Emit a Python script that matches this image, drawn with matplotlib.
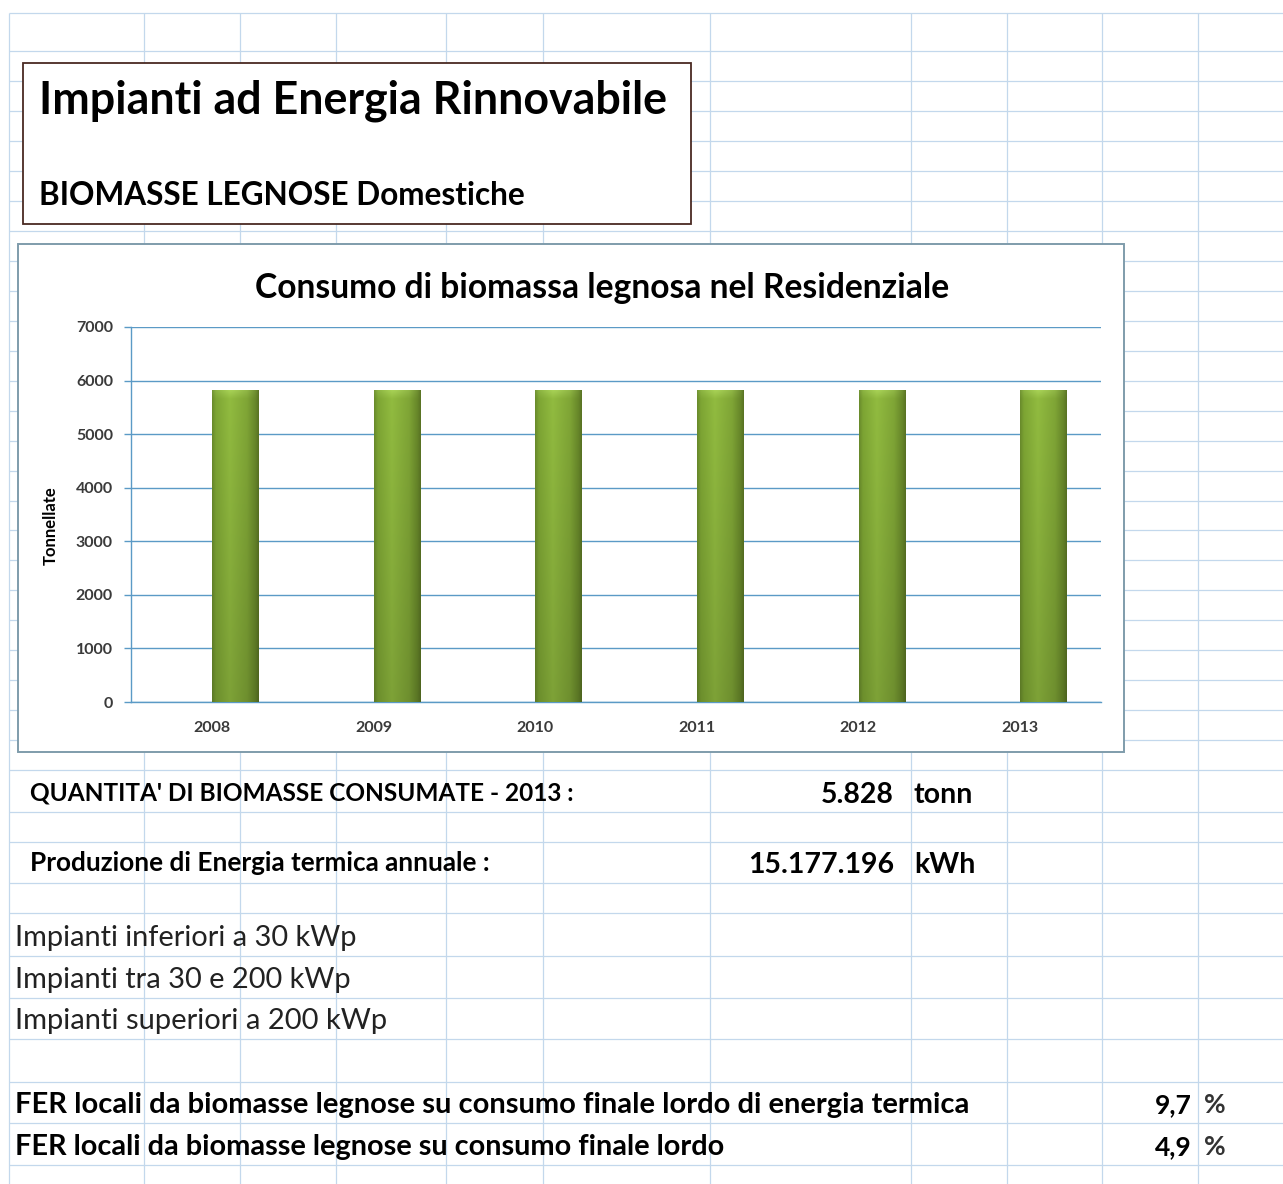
import matplotlib
matplotlib.use("Agg")
import matplotlib.pyplot as plt
import numpy as np
from matplotlib.patches import Rectangle

# Residential wood biomass consumption (tonnes per year)
anni = ["2008", "2009", "2010", "2011", "2012", "2013"]
tonnellate = [5828, 5828, 5828, 5828, 5828, 5828]
y_ticks = [0, 1000, 2000, 3000, 4000, 5000, 6000, 7000]

quantita_2013 = "5.828"
energia_termica = "15.177.196"
fer_termica = "9,7"
fer_totale = "4,9"

W, H = 1283, 1184
FONT = "Lato"
GRID_SHEET = "#c3d8ec"
GRID_CHART = "#5b9ac6"

# spreadsheet rows / columns (pixel positions)
row_y = [13, 51, 81, 111, 141, 171, 201, 231, 261, 291, 321, 351, 381, 411, 441,
         471, 501, 530, 560, 590, 620, 650, 680, 710, 740, 770, 812, 842, 883,
         913, 956, 998, 1039, 1082, 1123, 1165]
col_x = [9, 144, 240, 336, 446, 543, 710, 911, 1007, 1102, 1198]

fig = plt.figure(figsize=(W / 100, H / 100), dpi=100)
fig.patch.set_facecolor("white")
renderer = fig.canvas.get_renderer()

bg = fig.add_axes([0, 0, 1, 1])
bg.set_xlim(0, W)
bg.set_ylim(H, 0)
bg.axis("off")

bg.hlines(row_y, 9, W, color=GRID_SHEET, lw=0.9, zorder=0)
bg.vlines(col_x, 13, H, color=GRID_SHEET, lw=0.9, zorder=0)


def fit_text(ax, x, y, s, width, **kw):
    """Place text and scale its font so it spans `width` pixels."""
    t = ax.text(x, y, s, **kw)
    w = t.get_window_extent(renderer).width
    t.set_fontsize(t.get_fontsize() * width / w)
    return t


# header box
bg.add_patch(Rectangle((23, 63), 668, 161, facecolor="white",
                       edgecolor="#4a2a22", lw=1.3, zorder=2))
fit_text(bg, 39, 114, "Impianti ad Energia Rinnovabile", 628,
         family=FONT, weight="bold", fontsize=30, color="black", zorder=3)
fit_text(bg, 39, 205, "BIOMASSE LEGNOSE Domestiche", 487,
         family=FONT, weight="bold", fontsize=20, color="black", zorder=3)

# chart frame
bg.add_patch(Rectangle((18, 244), 1106, 508, facecolor="white",
                       edgecolor="#7f9cab", lw=1.4, zorder=2))
fit_text(bg, 255, 298, "Consumo di biomassa legnosa nel Residenziale", 695,
         family=FONT, weight="bold", fontsize=22, color="black", zorder=3)
bg.text(51, 526, "Tonnellate", family=FONT, weight="bold", fontsize=12,
        rotation=90, ha="center", va="center", color="black", zorder=3)

# bar chart
left, right, top, bottom = 131, 1101, 327, 702
ax = fig.add_axes([left / W, 1 - bottom / H, (right - left) / W, (bottom - top) / H])
ax.set_facecolor("none")
ax.set_zorder(5)

x = np.arange(len(anni))
bars = ax.bar(x, tonnellate, width=0.29, align="edge", color="#7ea63a",
              edgecolor="none", zorder=3)

# cylinder-like shading for each column
nx, ny = 80, 300
u = np.linspace(0, 1, nx)
stops = [0.0, 0.08, 0.38, 0.75, 0.93, 1.0]
rgb_stops = np.array([[106, 140, 44], [126, 166, 52], [146, 188, 64],
                      [128, 166, 54], [104, 136, 42], [90, 116, 36]]) / 255
row = np.stack([np.interp(u, stops, rgb_stops[:, c]) for c in range(3)], axis=-1)
v = np.linspace(0, 1, ny)
grad = row[None, :, :] * (1.0 - 0.14 * v[:, None, None])
# soft rounded highlight along the top edge
glow = np.clip(1 - v / 0.03, 0, 1)[:, None, None]
edge = np.clip(1 - np.abs(u - 0.45) / 0.55, 0, 1)[None, :, None] ** 0.5
grad = np.clip(grad + 0.10 * glow * edge, 0, 1)
for b in bars:
    bx, bw, bh = b.get_x(), b.get_width(), b.get_height()
    im = ax.imshow(grad, extent=[bx, bx + bw, 0, bh], origin="upper",
                   aspect="auto", zorder=4)
    im.set_clip_path(b)

ax.set_xlim(-0.5, len(anni) - 0.5)
ax.set_ylim(0, 7000)
ax.set_yticks(y_ticks)
ax.set_xticks(x)
ax.set_xticklabels(anni)
ax.grid(axis="y", color=GRID_CHART, lw=1.0, zorder=0)
ax.set_axisbelow(True)
for side in ["top", "right"]:
    ax.spines[side].set_visible(False)
for side in ["left", "bottom"]:
    ax.spines[side].set_color(GRID_CHART)
    ax.spines[side].set_linewidth(1.0)
ax.tick_params(axis="y", length=5, width=1.0, color=GRID_CHART, pad=8,
               labelsize=11.5, labelcolor="#3a3a3a")
ax.tick_params(axis="x", length=0, pad=14, labelsize=11.5, labelcolor="#3a3a3a")
for lbl in ax.get_xticklabels() + ax.get_yticklabels():
    lbl.set_family(FONT)
    lbl.set_weight("bold")

# figures below the chart
fit_text(bg, 30, 800, "QUANTITA' DI BIOMASSE CONSUMATE - 2013 :", 543,
         family=FONT, weight="bold", fontsize=16, color="black")
num = fit_text(bg, 894, 803, quantita_2013, 73, family=FONT, weight="bold",
               fontsize=18, ha="right", color="black")
bg.text(914, 803, "tonn", family=FONT, weight="bold",
        fontsize=num.get_fontsize(), color="black")

fit_text(bg, 30, 871, "Produzione di Energia termica annuale :", 460,
         family=FONT, weight="bold", fontsize=16, color="black")
bg.text(894, 873, energia_termica, family=FONT, weight="bold",
        fontsize=num.get_fontsize(), ha="right", color="black")
bg.text(914, 873, "kWh", family=FONT, weight="bold",
        fontsize=num.get_fontsize(), color="black")

fit_text(bg, 15, 946, "Impianti inferiori a 30 kWp", 343, family=FONT,
         fontsize=19, color="#222222")
fit_text(bg, 15, 988, "Impianti tra 30 e 200 kWp", 337, family=FONT,
         fontsize=19, color="#222222")
fit_text(bg, 15, 1029, "Impianti superiori a 200 kWp", 373, family=FONT,
         fontsize=19, color="#222222")

fit_text(bg, 15, 1113,
         "FER locali da biomasse legnose su consumo finale lordo di energia termica",
         955, family=FONT, weight="bold", fontsize=18, color="black")
fit_text(bg, 15, 1155, "FER locali da biomasse legnose su consumo finale lordo",
         712, family=FONT, weight="bold", fontsize=18, color="black")
pct = fit_text(bg, 1192, 1113, fer_termica, 37, family=FONT, weight="bold",
               fontsize=16, ha="right", color="black")
fs = pct.get_fontsize()
bg.text(1192, 1155, fer_totale, family=FONT, weight="bold", fontsize=fs,
        ha="right", color="black")
bg.text(1204, 1113, "%", family=FONT, weight="bold", fontsize=fs,
        color="#333333")
bg.text(1204, 1155, "%", family=FONT, weight="bold", fontsize=fs,
        color="#333333")

fig.savefig("out.png", dpi=100, facecolor="white")
